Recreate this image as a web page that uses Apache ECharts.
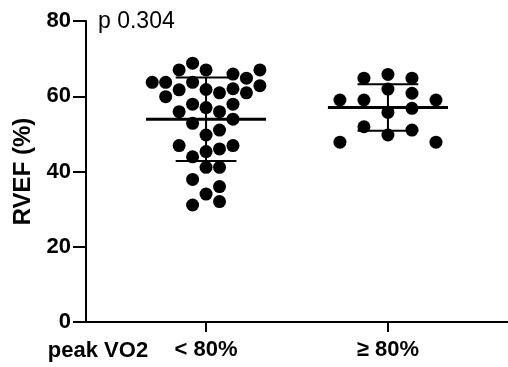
<!DOCTYPE html>
<html>
<head>
<meta charset="utf-8">
<script src="https://cdn.jsdelivr.net/npm/echarts@6/dist/echarts.min.js"></script>
<style>
html,body{margin:0;padding:0;background:#fff;}
#c{width:508px;height:367px;}
</style>
</head>
<body>
<div id="c"></div>
<script>
// ---- data ----
const categories = ['< 80%', '≥ 80%'];
const groupLabel = 'peak VO2';
const pText = 'p 0.304';
const yTicks = [0, 20, 40, 60, 80];

// group 1 (< 80%): RVEF values and swarm column slot
const g1Values = [68.8, 67.0, 67.0, 65.9, 64.8, 67.0, 63.7, 63.7, 63.7, 62.8,
                  61.7, 61.8, 60.9, 62.0, 60.9, 59.9, 57.9, 57.0, 55.9, 57.9,
                  55.9, 52.8, 53.9, 49.7, 51.0, 46.9, 46.9, 46.0, 45.3, 43.9,
                  41.1, 41.1, 37.9, 36.0, 34.0, 32.0, 31.1];
const g1Slots  = [-1, -2, 0, 2, 3, 4, -4, -3, -1, 4,
                  -2, 0, 1, 2, 3, -3, -1, 0, 1, 2,
                  -2, -1, 2, 0, 1, -2, 2, 1, 0, -1,
                  0, 1, -1, 1, 0, 1, -1];
// group 2 (>= 80%)
const g2Values = [64.8, 65.8, 64.8, 61.9, 60.8, 59.0, 59.0, 59.0, 55.7, 56.8,
                  51.9, 49.7, 51.0, 47.8, 47.8];
const g2Slots  = [-1, 0, 1, 0, 1, -2, -1, 2, 0, 1,
                  -1, 0, 1, -2, 2];

// summary (mean ± SD) as drawn
const means = [53.9, 57.0];
const sds   = [11.1, 6.2];

// ---- layout constants ----
const slotWidth = [0.074, 0.132];
const meanHalf = 0.33, sdHalf = 0.167;
const FONT = '"Liberation Sans", Arial, Helvetica, sans-serif';

function pts(values, slots, gx, w) {
  return values.map((v, i) => [gx + slots[i] * w, v]);
}

const chart = echarts.init(document.getElementById('c'), null, {renderer: 'canvas'});
chart.setOption({
  animation: false,
  backgroundColor: '#fff',
  grid: {left: 86, right: 0, top: 21, bottom: 45, containLabel: false},
  xAxis: {
    type: 'value', min: 0.34, max: 2.66,
    splitLine: {show: false},
    axisLine: {show: true, onZero: false, lineStyle: {color: '#000', width: 2}},
    axisTick: {show: true, customValues: [1, 2], length: 10, lineStyle: {color: '#000', width: 2}},
    axisLabel: {
      show: true, customValues: [1, 2], margin: 17,
      formatter: v => categories[Math.round(v) - 1],
      color: '#000', fontWeight: 'bold', fontSize: 22, fontFamily: FONT
    }
  },
  yAxis: {
    type: 'value', min: 0, max: 80, interval: 20,
    name: 'RVEF (%)', nameLocation: 'middle', nameGap: 50, nameRotate: 90,
    nameTextStyle: {color: '#000', fontWeight: 'bold', fontSize: 24, fontFamily: FONT},
    splitLine: {show: false},
    axisLine: {show: true, lineStyle: {color: '#000', width: 2}},
    axisTick: {show: true, length: 13, lineStyle: {color: '#000', width: 2}},
    axisLabel: {
      margin: 15, color: '#000', fontWeight: 'bold', fontSize: 22, fontFamily: FONT,
      customValues: yTicks
    }
  },
  graphic: [
    {type: 'text', left: 98, top: 10,
     style: {text: pText, fill: '#000', font: '23px ' + FONT}},
    {type: 'text', x: 98, y: 351,
     style: {text: groupLabel, fill: '#000', font: 'bold 22px ' + FONT, align: 'center', verticalAlign: 'middle'}}
  ],
  series: [
    {type: 'scatter', symbol: 'circle', symbolSize: 13, itemStyle: {color: '#000', opacity: 1},
     data: pts(g1Values, g1Slots, 1, slotWidth[0]), z: 2},
    {type: 'scatter', symbol: 'circle', symbolSize: 13, itemStyle: {color: '#000', opacity: 1},
     data: pts(g2Values, g2Slots, 2, slotWidth[1]), z: 2},
    {type: 'custom', z: 3,
     data: means.map((m, i) => [i + 1, m, sds[i]]),
     renderItem: function (params, api) {
       const gx = api.value(0), m = api.value(1), s = api.value(2);
       const c = (x, y) => api.coord([x, y]);
       const line = (a, b, w) => ({type: 'line', shape: {x1: a[0], y1: a[1], x2: b[0], y2: b[1]},
                                   style: {stroke: '#000', lineWidth: w}});
       return {type: 'group', children: [
         line(c(gx, m + s), c(gx, m - s), 2),
         line(c(gx - meanHalf, m), c(gx + meanHalf, m), 3),
         line(c(gx - sdHalf, m + s), c(gx + sdHalf, m + s), 2),
         line(c(gx - sdHalf, m - s), c(gx + sdHalf, m - s), 2)
       ]};
     }}
  ]
});
</script>
</body>
</html>
